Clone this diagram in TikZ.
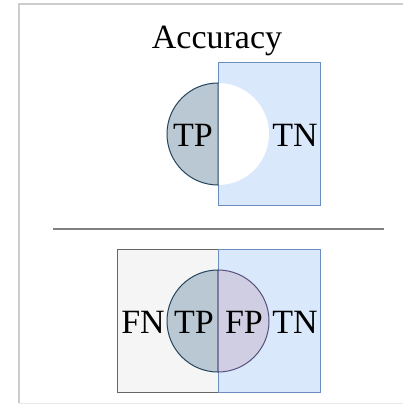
\documentclass[tikz,border=0pt]{standalone}
\usepackage{fontspec}
\setmainfont{Liberation Serif}
\begin{document}
\begin{tikzpicture}[x=1pt,y=-1pt,
  lbl/.style={inner sep=0pt, font=\fontsize{34}{38}\selectfont},
  bluebox/.style={fill={rgb,255:red,218;green,232;blue,252}, draw={rgb,255:red,108;green,142;blue,191}, line width=1pt},
  graybox/.style={fill={rgb,255:red,245;green,245;blue,245}, draw={rgb,255:red,102;green,102;blue,102}, line width=1pt},
  tphalf/.style={fill={rgb,255:red,186;green,200;blue,211}, draw={rgb,255:red,35;green,68;blue,93}, line width=1pt},
  fphalf/.style={fill={rgb,255:red,208;green,206;blue,226}, draw={rgb,255:red,86;green,81;blue,126}, line width=1pt},
  frame/.style={draw={rgb,255:red,205;green,205;blue,205}, line width=1.5pt}]
\useasboundingbox (0,0) rectangle (403,404);
% outer frame (open on the right)
\draw[frame] (403,4) -- (19,4) -- (19,403);
\draw[draw={rgb,255:red,232;green,232;blue,232}, line width=1pt] (19,403) -- (403,403);

% --- accuracy panel ---
\node[lbl] (title) at (217,41) {Accuracy};
\draw[bluebox] (218,63) rectangle (320,205);
\fill[white] (218,83) arc[start angle=270, end angle=450, radius=51] -- cycle;
\draw[tphalf] (218,83) arc[start angle=270, end angle=90, radius=51] -- cycle;
\node[lbl] (tpA) at (193,135) {TP};
\node[lbl] (tnA) at (295,135) {TN};

% divider
\draw[draw={rgb,255:red,128;green,128;blue,128}, line width=2pt] (53,229) -- (384,229);

% --- confusion panel ---
\draw[graybox] (218,249) -- (117,249) -- (117,392) -- (218,392);
\draw[bluebox] (218,249) rectangle (320,392);
\draw[tphalf] (218,270) arc[start angle=270, end angle=90, radius=51] -- cycle;
\draw[fphalf] (218,270) arc[start angle=270, end angle=450, radius=51] -- cycle;
\node[lbl] (fnB) at (143,322) {FN};
\node[lbl] (tpB) at (194,322) {TP};
\node[lbl] (fpB) at (244,322) {FP};
\node[lbl] (tnB) at (295,322) {TN};
\end{tikzpicture}
\end{document}
